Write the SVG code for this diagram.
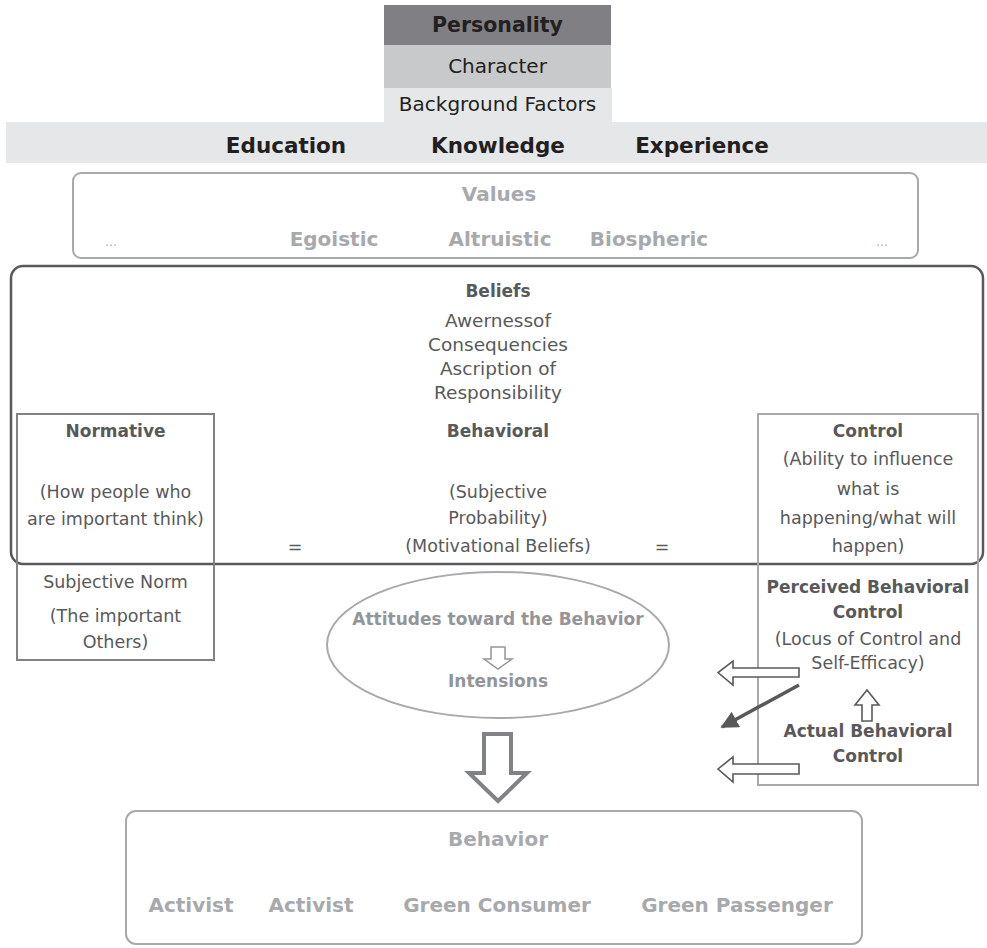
<svg xmlns="http://www.w3.org/2000/svg" width="987" height="948" viewBox="0 0 987 948">
<style>
text{font-family:"DejaVu Sans","Liberation Sans",sans-serif;text-anchor:middle}
.blk{fill:#231f20}
.dk{fill:#58595b}
.lg{fill:#a7a9ac;font-weight:bold;font-size:20px}
.md{fill:#939598;font-weight:bold;font-size:17px}
.b{font-weight:bold;font-size:17px}
.r{font-size:17.5px}
.hollow{fill:#fff;stroke:#58595b;stroke-width:1.6}
</style>
<defs>
<marker id="ah" viewBox="0 0 10 10" refX="9" refY="5" markerWidth="5" markerHeight="5" orient="auto" markerUnits="strokeWidth">
<path d="M0,0 L10,5 L0,10 z" fill="#58595b"/>
</marker>
</defs>
<rect width="987" height="948" fill="#fff"/>

<g id="personality">
<rect x="384" y="5" width="227" height="40" fill="#808084"/>
<text x="497.5" y="32" class="blk" font-weight="bold" font-size="20.5">Personality</text>
</g>
<g id="character">
<rect x="384" y="45" width="227" height="43" fill="#c8c9cb"/>
<text x="497.5" y="73" class="blk" font-size="20">Character</text>
</g>
<g id="background">
<rect x="384" y="88" width="228" height="35" fill="#e6e7e9"/>
<text x="497.5" y="111" class="blk" font-size="20">Background Factors</text>
</g>
<g id="band">
<rect x="6" y="122" width="981" height="41" fill="#e6e7e9"/>
<text x="286" y="153" class="blk" font-weight="bold" font-size="21.5">Education</text>
<text x="498" y="153" class="blk" font-weight="bold" font-size="21.5">Knowledge</text>
<text x="702" y="153" class="blk" font-weight="bold" font-size="21.5">Experience</text>
</g>

<g id="values">
<rect x="73" y="173" width="845" height="85" rx="8" fill="none" stroke="#a7a9ac" stroke-width="2"/>
<text x="499" y="201" class="lg">Values</text>
<text x="111" y="246" fill="#a7a9ac" font-size="12">...</text>
<text x="334" y="246" class="lg" font-size="19.5">Egoistic</text>
<text x="500" y="246" class="lg" font-size="19.5">Altruistic</text>
<text x="649" y="246" class="lg" font-size="19.5">Biospheric</text>
<text x="882" y="246" fill="#a7a9ac" font-size="12">...</text>
</g>

<g id="beliefs">
<rect x="11" y="266" width="972" height="298" rx="12" fill="none" stroke="#58595b" stroke-width="2.5"/>
<text x="498" y="297" class="dk b">Beliefs</text>
<text x="498" y="327" class="dk" font-size="18.5">Awernessof</text>
<text x="498" y="351" class="dk" font-size="18.5">Consequencies</text>
<text x="498" y="375" class="dk" font-size="18.5">Ascription of</text>
<text x="498" y="399" class="dk" font-size="18.5">Responsibility</text>
</g>

<g id="behavioral">
<text x="498" y="437" class="dk b">Behavioral</text>
<text x="498" y="498" class="dk r">(Subjective</text>
<text x="498" y="524" class="dk r">Probability)</text>
<text x="498" y="552" class="dk r">(Motivational Beliefs)</text>
<text x="295" y="553" class="dk r">=</text>
<text x="662" y="553" class="dk r">=</text>
</g>

<g id="normative">
<rect x="17" y="414" width="197" height="246" fill="none" stroke="#808285" stroke-width="2"/>
<text x="115.5" y="437" class="dk b">Normative</text>
<text x="115.5" y="498" class="dk r">(How people who</text>
<text x="115.5" y="525" class="dk r">are important think)</text>
<text x="115.5" y="588" class="dk r">Subjective Norm</text>
<text x="115.5" y="622" class="dk r">(The important</text>
<text x="115.5" y="648" class="dk r">Others)</text>
</g>

<g id="control">
<rect x="758" y="414" width="220" height="371" fill="none" stroke="#a7a9ac" stroke-width="2"/>
<text x="868" y="437" class="dk b">Control</text>
<text x="868" y="465" class="dk r">(Ability to influence</text>
<text x="868" y="495" class="dk r">what is</text>
<text x="868" y="524" class="dk r">happening/what will</text>
<text x="868" y="552" class="dk r">happen)</text>
<text x="868" y="593" class="dk b">Perceived Behavioral</text>
<text x="868" y="618" class="dk b">Control</text>
<text x="868" y="645" class="dk r">(Locus of Control and</text>
<text x="868" y="669" class="dk r">Self-Efficacy)</text>
<text x="868" y="737" class="dk b">Actual Behavioral</text>
<text x="868" y="762" class="dk b">Control</text>
</g>

<g id="attitudes">
<ellipse cx="498" cy="645" rx="171" ry="73" fill="none" stroke="#a7a9ac" stroke-width="2"/>
<text x="498" y="625" class="md">Attitudes toward the Behavior</text>
<polygon points="491,647 505,647 505,659 512,659 498,669 484,659 491,659" fill="#fff" stroke="#939598" stroke-width="1.5"/>
<text x="498" y="687" class="md">Intensions</text>
</g>

<g id="behavior">
<rect x="126" y="811" width="736" height="133" rx="10" fill="none" stroke="#a7a9ac" stroke-width="2"/>
<text x="498" y="846" class="lg">Behavior</text>
<text x="191" y="912" class="lg">Activist</text>
<text x="311" y="912" class="lg">Activist</text>
<text x="497" y="912" class="lg">Green Consumer</text>
<text x="737" y="912" class="lg">Green Passenger</text>
</g>

<g id="connectors">
<polygon points="484,734 511,734 511,773 527,773 498,801 469,773 484,773" fill="#fff" stroke="#808285" stroke-width="4" stroke-linejoin="miter"/>
<polygon class="hollow" points="799,668 733,668 733,661 718,672.5 733,685 733,677 799,677"/>
<polygon class="hollow" points="799,764 733,764 733,757 718,769 733,782 733,774 799,774"/>
<polygon class="hollow" points="862,721 872,721 872,705 879,705 867,690 855,705 862,705"/>
<line x1="799" y1="685" x2="722" y2="727" stroke="#58595b" stroke-width="3.5" marker-end="url(#ah)"/>
</g>
</svg>
